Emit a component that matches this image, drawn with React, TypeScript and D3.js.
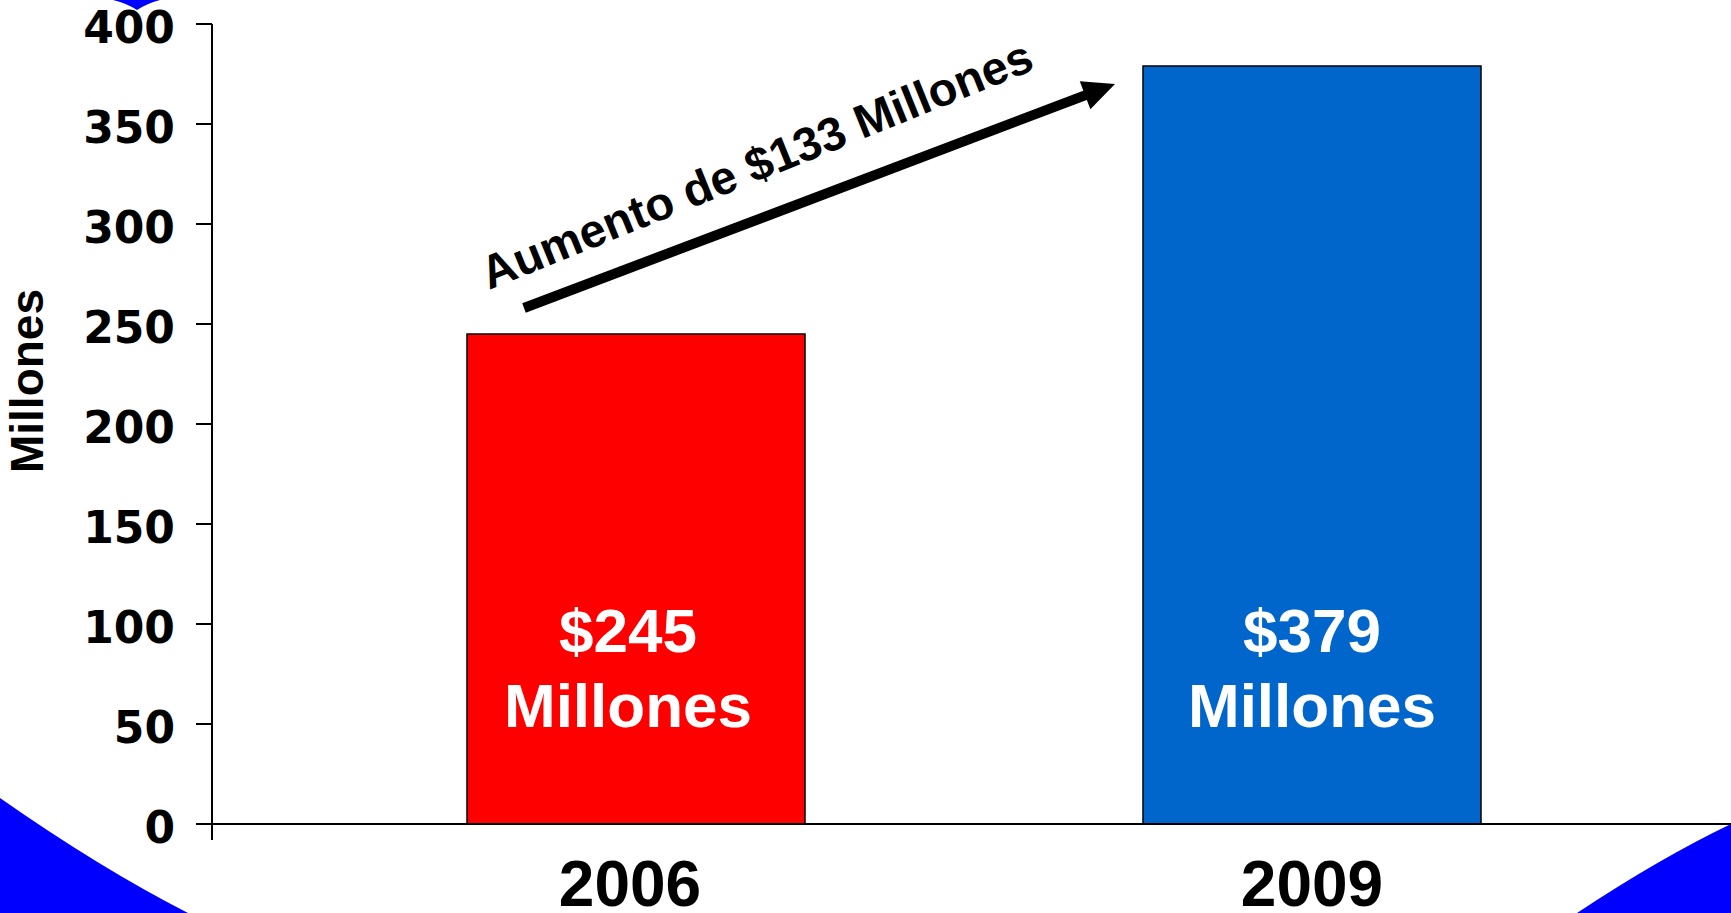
import React, { useEffect, useState } from 'react';
import * as d3 from 'd3';

const years = ['2006', '2009'];
const amounts = [245, 379];
const barColors = ['#FF0000', '#0066CC'];
const barLabels = ['$245', '$379'];
const yTicks = [0, 50, 100, 150, 200, 250, 300, 350, 400];
const arrowText = 'Aumento de $133 Millones';
const yTitle = 'Millones';

const W = 1731;
const H = 913;

const App: React.FC = () => {
  const [svgRef, setSvgRef] = useState<SVGSVGElement | null>(null);

  useEffect(() => {
    if (!svgRef) return;
    const svg = d3.select(svgRef);
    svg.selectAll('*').remove();

    const axisX = 212;
    const y = d3.scaleLinear().domain([0, 400]).range([824, 24]);
    const x = d3.scaleBand<string>()
      .domain(years)
      .range([298, 1650])
      .paddingInner(0.5)
      .paddingOuter(0.25);
    const arial = '"Liberation Sans", Arial, sans-serif';

    // background decoration from the slide
    svg.append('path')
      .attr('d', `M0,798 Q100,868 188,${H} L0,${H} Z`)
      .attr('fill', '#0000FF');
    svg.append('path')
      .attr('d', `M${W},824 Q1660,858 1577,${H} L${W},${H} Z`)
      .attr('fill', '#0000FF');
    svg.append('path')
      .attr('d', 'M113,0 Q126,3 137,10 Q148,3 160,0 Z')
      .attr('fill', '#0000FF');

    // bars
    svg.selectAll('.bar')
      .data(years)
      .enter()
      .append('rect')
      .attr('class', 'bar')
      .attr('x', d => x(d) || 0)
      .attr('y', (d, i) => y(amounts[i]))
      .attr('width', x.bandwidth())
      .attr('height', (d, i) => y(0) - y(amounts[i]))
      .attr('fill', (d, i) => barColors[i])
      .attr('stroke', '#000')
      .attr('stroke-width', 1.5);

    // labels inside bars + category labels
    years.forEach((d, i) => {
      const cx = (x(d) || 0) + x.bandwidth() / 2 - (i === 0 ? 8 : 0);
      const t = svg.append('text')
        .attr('text-anchor', 'middle')
        .attr('fill', '#fff')
        .style('font-family', arial)
        .style('font-weight', 'bold')
        .style('font-size', '62px');
      t.append('tspan').attr('x', cx).attr('y', y(0) - 172).text(barLabels[i]);
      t.append('tspan').attr('x', cx).attr('y', y(0) - 97).text('Millones');

      svg.append('text')
        .attr('x', (x(d) || 0) + x.bandwidth() / 2 - (i === 0 ? 6 : 0))
        .attr('y', y(0) + 82)
        .attr('text-anchor', 'middle')
        .style('font-family', arial)
        .style('font-weight', 'bold')
        .style('font-size', '64px')
        .text(d);
    });

    // y axis
    svg.append('line')
      .attr('x1', axisX).attr('x2', axisX)
      .attr('y1', y(400)).attr('y2', y(0) + 16)
      .attr('stroke', '#000').attr('stroke-width', 2);
    svg.selectAll('.tick')
      .data(yTicks)
      .enter()
      .append('line')
      .attr('x1', axisX - 16).attr('x2', axisX)
      .attr('y1', d => y(d)).attr('y2', d => y(d))
      .attr('stroke', '#000').attr('stroke-width', 2);
    svg.selectAll('.tick-label')
      .data(yTicks)
      .enter()
      .append('text')
      .attr('x', axisX - 37)
      .attr('y', d => y(d) + 19)
      .attr('text-anchor', 'end')
      .style('font-family', '"DejaVu Sans", Verdana, sans-serif')
      .style('font-weight', 'bold')
      .style('font-size', '44px')
      .text(d => d);

    // x axis
    svg.append('line')
      .attr('x1', axisX - 16).attr('x2', W)
      .attr('y1', y(0)).attr('y2', y(0))
      .attr('stroke', '#000').attr('stroke-width', 2);

    // y title
    svg.append('text')
      .attr('transform', `translate(43,381) rotate(-90)`)
      .attr('text-anchor', 'middle')
      .style('font-family', arial)
      .style('font-weight', 'bold')
      .style('font-size', '46px')
      .text(yTitle);

    // arrow annotation
    const x0 = (x('2006') || 0) + 57;
    const y0 = y(258);
    const x1 = (x('2009') || 0) - 28;
    const y1 = y(370);
    const ang = Math.atan2(y1 - y0, x1 - x0);
    const headLen = 32;
    const headHalf = 15;
    const bx = x1 - headLen * Math.cos(ang);
    const by = y1 - headLen * Math.sin(ang);
    svg.append('line')
      .attr('x1', x0).attr('y1', y0)
      .attr('x2', bx + 2 * Math.cos(ang)).attr('y2', by + 2 * Math.sin(ang))
      .attr('stroke', '#000').attr('stroke-width', 10);
    svg.append('path')
      .attr('d', `M${x1},${y1} L${bx + headHalf * Math.sin(ang)},${by - headHalf * Math.cos(ang)} L${bx - headHalf * Math.sin(ang)},${by + headHalf * Math.cos(ang)} Z`)
      .attr('fill', '#000');

    svg.append('text')
      .attr('transform', `translate(${(x('2006') || 0) + 22},${y(267)}) rotate(-22)`)
      .style('font-family', arial)
      .style('font-weight', 'bold')
      .style('font-size', '47px')
      .text(arrowText);
  }, [svgRef]);

  return (
    <svg
      ref={setSvgRef}
      width={W}
      height={H}
      style={{ position: 'absolute', left: 0, top: 0, display: 'block', background: '#fff' }}
    />
  );
};

export default App;
